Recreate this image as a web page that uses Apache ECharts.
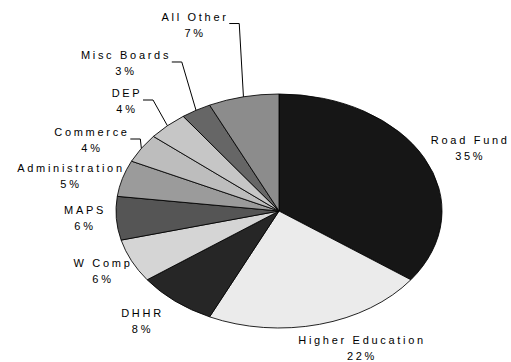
<!DOCTYPE html>
<html>
<head>
<meta charset="utf-8">
<script src="https://cdn.jsdelivr.net/npm/echarts@6/dist/echarts.min.js"></script>
<style>
  html, body { margin: 0; padding: 0; background: #fff; }
  #wrap { position: relative; width: 511px; height: 362px; overflow: hidden; }
  /* the pie is drawn round and squashed vertically into an ellipse */
  #pie { position: absolute; left: 0; top: 0; width: 511px; transform-origin: 0 0; }
  #labels { position: absolute; left: 0; top: 0; width: 511px; height: 362px; }
  #labels svg text { letter-spacing: 2.7px; }
</style>
</head>
<body>
<div id="wrap">
  <div id="pie"></div>
  <div id="labels"></div>
</div>
<script>
// Budget shares by area (percent)
const categories = ['Road Fund', 'Higher Education', 'DHHR', 'W Comp', 'MAPS',
                    'Administration', 'Commerce', 'DEP', 'Misc Boards', 'All Other'];
const shares = [35, 22, 8, 6, 6, 5, 4, 4, 3, 7];

// Slice fills (grey tones of the original hatch patterns)
const fills = ['#161616', '#ebebeb', '#262626', '#d5d5d5', '#555555',
               '#9b9b9b', '#bdbdbd', '#c6c6c6', '#666666', '#8c8c8c'];

// Ellipse geometry
const CX = 279, CY = 211, RX = 163, RY = 117;
const SQUASH = RY / RX;

// Label block offsets from the slice's outer mid point, and which labels get a leader line
const labelOffsets = [[46, -9.5], [42.5, 23.7], [-32.6, 19.9], [-28.5, 9.7], [-31.3, -0.8],
                      [-51.5, -1.9], [-49.4, -8.3], [-40.4, -24.7], [-70, -47.3], [-48.4, -72.3]];
const withLeader = [false, false, false, false, false, false, true, true, true, true];

const FONT = 11, SPACING = 2.7, LINE_H = 16;

const pieEl = document.getElementById('pie');
const pieH = 362 / SQUASH;
pieEl.style.height = pieH + 'px';
pieEl.style.transform = 'scaleY(' + SQUASH + ')';

const pieChart = echarts.init(pieEl, null, { renderer: 'svg' });
pieChart.setOption({
  animation: false,
  series: [{
    type: 'pie',
    center: [CX, CY / SQUASH],
    radius: RX,
    startAngle: 90,
    clockwise: true,
    silent: true,
    label: { show: false },
    labelLine: { show: false },
    itemStyle: { borderColor: '#000', borderWidth: 1 },
    data: categories.map((name, i) => ({ name, value: shares[i], itemStyle: { color: fills[i] } }))
  }]
});

// outer mid point of each slice on the ellipse
const total = shares.reduce((a, b) => a + b, 0);
const anchors = [];
let acc = 0;
shares.forEach(v => {
  const t = 2 * Math.PI * (acc + v / 2) / total;
  anchors.push([CX + RX * Math.sin(t), CY - RY * Math.cos(t)]);
  acc += v;
});

// width of a text line including the extra letter spacing
const measureCtx = document.createElement('canvas').getContext('2d');
measureCtx.font = FONT + 'px "Liberation Sans", Arial, sans-serif';
function lineWidth(s) {
  return measureCtx.measureText(s).width + SPACING * (s.length - 1);
}

// invisible pie that only carries the labels and leader lines
const labelChart = echarts.init(document.getElementById('labels'), null, { renderer: 'svg' });
labelChart.setOption({
  animation: false,
  series: [{
    type: 'pie',
    center: [CX, CY],
    radius: 20,
    startAngle: 90,
    silent: true,
    itemStyle: { color: 'rgba(0,0,0,0)', borderWidth: 0 },
    label: {
      show: true,
      position: 'outside',
      overflow: 'none',
      color: '#000',
      fontFamily: '"Liberation Sans", Arial, sans-serif',
      fontSize: FONT,
      lineHeight: LINE_H,
      align: 'center',
      formatter: p => p.name + '\n' + Math.round(p.percent) + '%'
    },
    labelLine: { lineStyle: { color: '#000', width: 1 } },
    labelLayout: function (params) {
      const i = params.dataIndex;
      const a = anchors[i];
      const x = a[0] + labelOffsets[i][0];
      const y = a[1] + labelOffsets[i][1];
      const out = { x: x, y: y, align: 'center', verticalAlign: 'middle' };
      if (withLeader[i]) {
        const w = Math.max(lineWidth(categories[i]), lineWidth(shares[i] + '%'));
        const sx = x + w / 2 + 2;
        const sy = y - 1;
        out.labelLinePoints = [[a[0], a[1]], [sx + 10, sy], [sx, sy]];
      }
      return out;
    },
    data: categories.map((name, i) => ({
      name, value: shares[i],
      labelLine: { show: withLeader[i] }
    }))
  }]
});
</script>
</body>
</html>
